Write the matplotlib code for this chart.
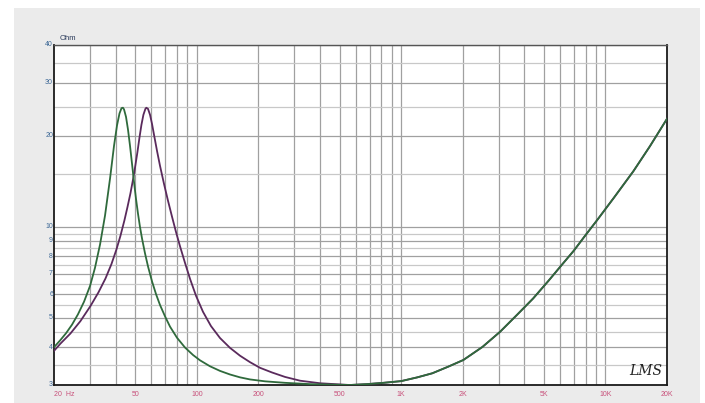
import matplotlib
matplotlib.use("Agg")
import matplotlib.pyplot as plt
from matplotlib.patches import Rectangle
from matplotlib.ticker import FixedLocator, NullFormatter
import matplotlib.transforms as mtransforms

# ---- data (frequency in Hz, impedance in Ohm) ----
# low-frequency part of the green curve (resonance near 43.5 Hz)
green_low_freq = [20, 21.4, 22.9, 24.5, 26.2, 28.06, 30.04, 31.73, 33.6, 35.55, 37.62,
                  39.33, 40.68, 41.85, 42.81, 43.48, 44.02, 45.03, 46.05, 47.1, 48.18,
                  49.27, 50.39, 51.54, 52.71, 53.91, 55.77, 57.7, 60.38, 63.17, 66.04,
                  69.9, 73.93, 79.98, 87.56, 95.84, 103.7, 116.0, 129.9, 145.4, 162.7,
                  182.1, 215.7, 270.3, 358.2]
green_low_ohm = [4.00, 4.21, 4.45, 4.75, 5.14, 5.66, 6.39, 7.32, 8.75, 10.92, 14.49,
                 18.55, 21.67, 23.77, 24.73, 24.8, 24.5, 23.13, 20.98, 18.57, 16.18,
                 14.10, 12.39, 11.06, 10.0, 9.17, 8.18, 7.40, 6.60, 5.99, 5.52,
                 5.06, 4.68, 4.30, 3.99, 3.77, 3.62, 3.46, 3.34, 3.25, 3.18,
                 3.13, 3.085, 3.05, 3.02]

# low-frequency part of the purple curve (resonance near 56.5 Hz)
purple_low_freq = [20, 21.49, 24.06, 26.93, 30.14, 32.98, 35.71, 38.19, 40.39, 42.27,
                   44.23, 45.75, 47.31, 48.92, 50.04, 51.19, 52.36, 53.56, 54.78, 56.03,
                   56.6, 57.7, 59.03, 60.38, 61.76, 63.87, 66.04, 69.08, 72.27, 75.6,
                   79.1, 82.75, 87.56, 92.66, 99.1, 107.2, 117.3, 129.9, 145.4, 162.7,
                   182.1, 203.8, 233.4, 270.3, 320.1, 401]
purple_low_ohm = [3.89, 4.11, 4.44, 4.88, 5.47, 6.07, 6.75, 7.53, 8.41, 9.34,
                  10.52, 11.62, 12.90, 14.56, 16.0, 17.66, 19.69, 21.76, 23.51, 24.6,
                  24.8, 24.59, 23.49, 21.90, 20.15, 17.84, 15.94, 13.89, 12.21, 10.82,
                  9.62, 8.63, 7.60, 6.73, 5.92, 5.24, 4.70, 4.29, 3.98, 3.75,
                  3.57, 3.42, 3.30, 3.19, 3.10, 3.04]

# mid/high-frequency part, where both curves coincide
common_freq = [560, 680, 818, 1000, 1200, 1420, 1700, 2016, 2500, 3048, 3700, 4425,
               5255, 6100, 7000, 8000, 9067, 11000, 13700, 16500, 20000]
common_ohm = [3.0, 3.02, 3.05, 3.09, 3.18, 3.28, 3.45, 3.63, 4.01, 4.50, 5.13, 5.80,
              6.63, 7.48, 8.35, 9.41, 10.5, 12.5, 15.3, 18.5, 22.8]

x_tick_vals = [20, 50, 100, 200, 500, 1000, 2000, 5000, 10000, 20000]
x_tick_labels = ["20  Hz", "50", "100", "200", "500", "1K", "2K", "5K", "10K", "20K"]
x_grid_vals = [30, 40, 50, 60, 70, 80, 90, 100, 200, 300, 400, 500, 600, 700, 800, 900,
               1000, 2000, 3000, 4000, 5000, 6000, 7000, 8000, 9000, 10000]
y_tick_vals = [3, 4, 5, 6, 7, 8, 9, 10, 20, 30, 40]
y_tick_labels = ["3", "4", "5", "6", "7", "8", "9", "10", "20", "30", "40"]
y_minor_vals = [3.5, 4.5, 5.5, 6.5, 7.5, 8.5, 9.5, 15, 25, 35]

green_freq = green_low_freq + common_freq
green_ohm = green_low_ohm + common_ohm
purple_freq = purple_low_freq + common_freq
purple_ohm = purple_low_ohm + common_ohm

# ---- figure ----
fig = plt.figure(figsize=(7.05, 4.03), dpi=100)
fig.patch.set_facecolor("white")
fig.patches.append(Rectangle((14 / 705, 0), (700 - 14) / 705, (403 - 8) / 403,
                             transform=fig.transFigure, facecolor="#ebebeb",
                             edgecolor="none", zorder=-10))

ax = fig.add_axes([54 / 705, 18 / 403, 613 / 705, 340 / 403])
ax.set_zorder(1)
ax.set_facecolor("white")
ax.set_xscale("log")
ax.set_yscale("log")
ax.set_xlim(20, 20000)
ax.set_ylim(3, 40)

# grid
ax.xaxis.set_major_locator(FixedLocator(x_grid_vals))
ax.xaxis.set_major_formatter(NullFormatter())
ax.xaxis.set_minor_locator(FixedLocator([]))
ax.yaxis.set_major_locator(FixedLocator(y_tick_vals))
ax.yaxis.set_minor_locator(FixedLocator(y_minor_vals))
ax.yaxis.set_major_formatter(NullFormatter())
ax.yaxis.set_minor_formatter(NullFormatter())
ax.tick_params(which="both", length=0)
ax.grid(True, which="major", axis="both", color="#a0a0a0", linewidth=0.9)
ax.grid(True, which="minor", axis="y", color="#c8c8c8", linewidth=0.9)
ax.set_axisbelow(True)

for side in ["left", "bottom", "right"]:
    ax.spines[side].set_color("#1a1a1a")
    ax.spines[side].set_linewidth(1.3)
ax.spines["top"].set_color("#555555")
ax.spines["top"].set_linewidth(1.0)

# curves
ax.plot(purple_freq, purple_ohm, color="#5a2a5c", linewidth=1.3, zorder=3,
        solid_joinstyle="round")
ax.plot(green_freq, green_ohm, color="#2f6a3c", linewidth=1.3, zorder=4,
        solid_joinstyle="round")

# tick labels
xlab_tr = mtransforms.blended_transform_factory(ax.transData, fig.transFigure)
for v, lab in zip(x_tick_vals, x_tick_labels):
    ha = "left" if lab.endswith("Hz") else "center"
    ax.text(v, 9 / 403, lab, transform=xlab_tr, ha=ha, va="center",
            fontsize=5, color="#c8507a", family="Liberation Sans", clip_on=False)

ylab_tr = mtransforms.blended_transform_factory(fig.transFigure, ax.transData)
for v, lab in zip(y_tick_vals, y_tick_labels):
    ax.text(53 / 705, v, lab, transform=ylab_tr, ha="right", va="center",
            fontsize=5, color="#3d6896", family="Liberation Sans", clip_on=False)

fig.text(60 / 705, (403 - 39) / 403, "Ohm", ha="left", va="center", fontsize=5.5,
         color="#2a3a5a", family="Liberation Sans")

ax.text(0.993, 0.04, "LMS", transform=ax.transAxes, ha="right", va="center",
        fontsize=10, style="italic", color="#222222", family="DejaVu Serif")

fig.savefig("out.png", dpi=100, facecolor=fig.get_facecolor())
